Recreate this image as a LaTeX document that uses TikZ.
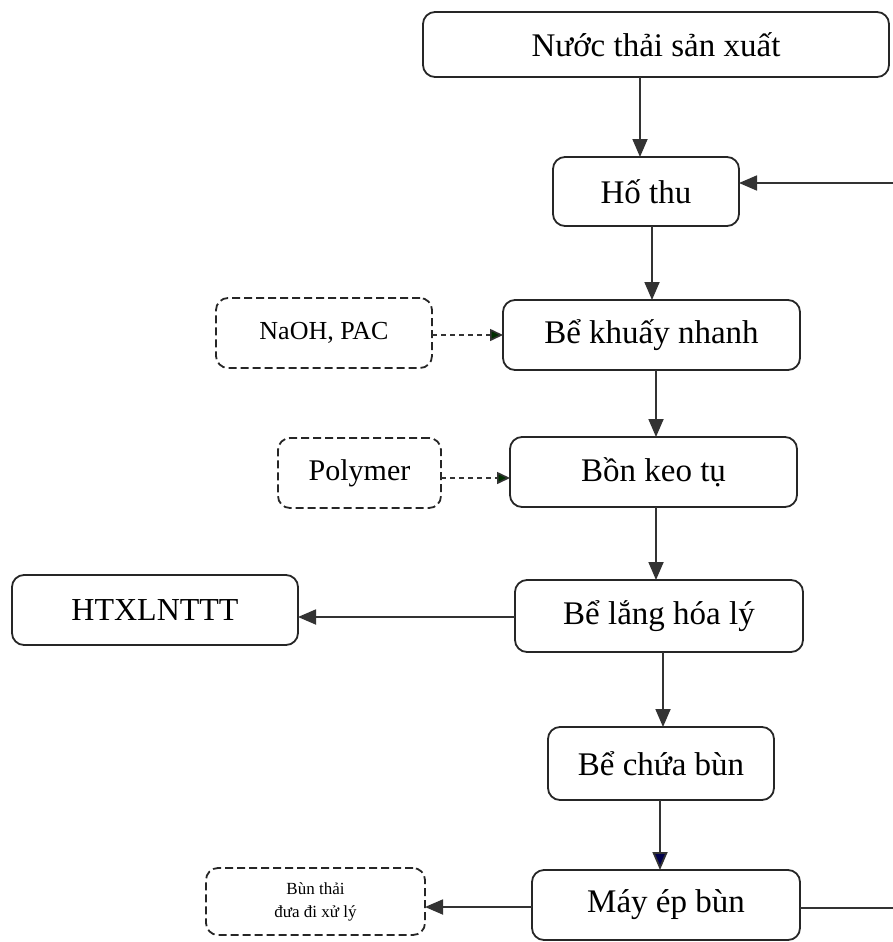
\documentclass[tikz,border=0pt]{standalone}
\usepackage{fontspec}
\setmainfont{Liberation Serif}
\usetikzlibrary{arrows.meta}
\begin{document}
\begin{tikzpicture}[x=1pt,y=-1pt,
  line width=1.8pt,
  every node/.style={inner sep=0pt,outer sep=0pt},
  box/.style={draw=black!85,rounded corners=12pt,line width=1.8pt,align=center,
    font=\fontsize{33}{38}\selectfont},
  dbox/.style={box,dashed,dash pattern=on 8pt off 4pt},
  arr/.style={draw=black!80,line width=1.8pt,-{Triangle[length=18pt,width=15pt]}},
  darr/.style={arr,dashed,dash pattern=on 5pt off 4pt,line width=1.6pt,
    -{Triangle[length=13pt,width=12pt,fill=black!70!green!60!black]}}]
\useasboundingbox (0,0) rectangle (893,942);

% process steps
\node[box,minimum width=466pt,minimum height=65pt] (top) at (656,44.5) {Nước thải sản xuất};
\node[box,minimum width=186pt,minimum height=69pt] (hothu) at (646,191.5) {Hố thu};
\node[box,minimum width=297pt,minimum height=70pt] (khuay) at (651.5,335) {Bể khuấy nhanh};
\node[box,minimum width=287pt,minimum height=70pt] (keo) at (653.5,472) {Bồn keo tụ};
\node[box,minimum width=288pt,minimum height=72pt] (lang) at (659,616) {Bể lắng hóa lý};
\node[box,minimum width=226pt,minimum height=73pt] (chua) at (661,763.5) {Bể chứa bùn};
\node[box,minimum width=268pt,minimum height=70pt] (ep) at (666,905) {Máy ép bùn};

% side inputs and outputs
\node[dbox,minimum width=216pt,minimum height=70pt,font=\fontsize{26}{30}\selectfont] (naoh) at (324,333) {NaOH, PAC};
\node[dbox,minimum width=163pt,minimum height=70pt,font=\fontsize{30}{34}\selectfont] (poly) at (359.5,473) {Polymer};
\node[box,minimum width=286pt,minimum height=70pt,font=\fontsize{32}{36}\selectfont] (htx) at (155,610) {HTXLNTTT};
\node[dbox,minimum width=219pt,minimum height=67pt,font=\fontsize{17}{23}\selectfont] (bun) at (315.5,901.5) {Bùn thải\\đưa đi xử lý};

% main flow
\draw[arr] (top.south -| 640,0) -- (hothu.north -| 640,0);
\draw[arr] (hothu.south -| 652,0) -- (khuay.north -| 652,0);
\draw[arr] (khuay.south -| 656,0) -- (keo.north -| 656,0);
\draw[arr] (keo.south -| 656,0) -- (lang.north -| 656,0);
\draw[arr] (lang.south -| 663,0) -- (chua.north -| 663,0);
\draw[arr,-{Triangle[length=18pt,width=15pt,fill=blue!30!black]}] (chua.south -| 660,0) -- (ep.north -| 660,0);

% chemicals
\draw[darr] (naoh.east |- 0,335) -- (khuay.west |- 0,335);
\draw[darr] (poly.east |- 0,478) -- (keo.west |- 0,478);

% outputs
\draw[arr] (lang.west |- 0,617) -- (htx.east |- 0,617);
\draw[arr] (ep.west |- 0,907) -- (bun.east |- 0,907);

% filtrate return
\coordinate (rt) at (893,183);
\coordinate (rb) at (893,908);
\draw[draw=black!80] (ep.east |- rb) -- (rb);
\draw[arr] (rt) -- (hothu.east |- rt);
\end{tikzpicture}
\end{document}
